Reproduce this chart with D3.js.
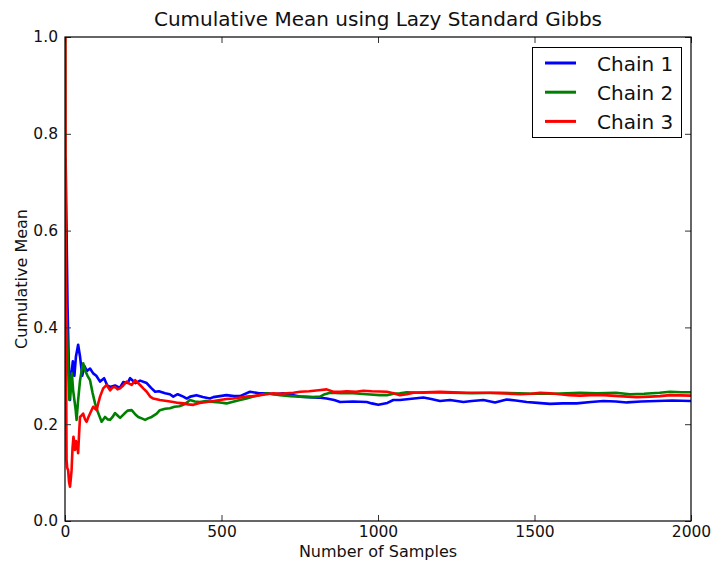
<!DOCTYPE html>
<html>
<head>
<meta charset="utf-8">
<script src="https://cdn.jsdelivr.net/npm/d3@7"></script>
<style>
  body { margin: 0; background: #fff; }
  svg { display: block; font-family: "DejaVu Sans", sans-serif; }
</style>
</head>
<body>
<div id="chart"></div>
<script>
width = 712
height = 565
margin = ({ top: 37, right: 21, bottom: 44, left: 65 })

// values: [sample, cumulative mean]
chainNames = ["Chain 1", "Chain 2", "Chain 3"]
chainColors = ["#0000ff", "#008000", "#ff0000"]

chain1 = [[2,0.75],[5,0.6],[8,0.446],[12,0.33],[16,0.25],[20,0.30],[25,0.33],[30,0.30],[35,0.34],[42,0.364],[48,0.34],[55,0.30],[62,0.32],[70,0.31],[80,0.315],[90,0.305],[100,0.30],[112,0.288],[125,0.295],[135,0.28],[144,0.277],[160,0.28],[175,0.275],[186,0.287],[200,0.285],[208,0.295],[225,0.285],[240,0.29],[261,0.285],[275,0.275],[288,0.267],[300,0.268],[320,0.264],[335,0.262],[346,0.257],[360,0.262],[378,0.257],[389,0.253],[400,0.257],[420,0.26],[440,0.256],[463,0.253],[474,0.256],[495,0.258],[516,0.26],[540,0.258],[559,0.258],[591,0.267],[620,0.264],[644,0.264],[670,0.262],[697,0.264],[730,0.26],[751,0.257],[780,0.256],[810,0.255],[836,0.253],[860,0.25],[879,0.246],[920,0.247],[964,0.246],[980,0.243],[1001,0.24],[1030,0.244],[1049,0.25],[1070,0.25],[1100,0.252],[1145,0.255],[1170,0.252],[1198,0.248],[1230,0.25],[1273,0.246],[1300,0.248],[1337,0.25],[1374,0.245],[1411,0.251],[1440,0.249],[1475,0.246],[1510,0.244],[1550,0.242],[1590,0.243],[1635,0.243],[1680,0.246],[1720,0.248],[1760,0.247],[1795,0.245],[1840,0.247],[1890,0.248],[1940,0.249],[2000,0.248]]

chain2 = [[1,1],[2,0.5],[3,0.45],[5,0.43],[8,0.36],[11,0.3],[14,0.25],[18,0.28],[22,0.305],[26,0.27],[30,0.25],[34,0.23],[37,0.209],[42,0.25],[48,0.29],[53,0.31],[58,0.326],[65,0.31],[72,0.30],[80,0.291],[88,0.265],[96,0.243],[105,0.225],[117,0.205],[128,0.215],[136,0.21],[144,0.209],[152,0.215],[160,0.223],[168,0.218],[176,0.213],[190,0.222],[200,0.228],[213,0.229],[225,0.22],[234,0.215],[245,0.212],[256,0.209],[265,0.212],[277,0.215],[293,0.222],[303,0.229],[320,0.232],[335,0.233],[350,0.236],[365,0.237],[378,0.24],[390,0.245],[399,0.25],[415,0.247],[431,0.246],[450,0.248],[474,0.246],[495,0.245],[516,0.243],[540,0.247],[559,0.25],[580,0.253],[602,0.257],[620,0.26],[644,0.264],[665,0.262],[687,0.26],[720,0.258],[751,0.257],[790,0.256],[815,0.257],[830,0.262],[847,0.265],[880,0.264],[920,0.264],[964,0.262],[1006,0.26],[1028,0.26],[1050,0.263],[1070,0.264],[1092,0.266],[1145,0.265],[1177,0.266],[1230,0.265],[1300,0.264],[1390,0.265],[1450,0.264],[1500,0.263],[1560,0.263],[1645,0.265],[1700,0.264],[1760,0.265],[1805,0.262],[1850,0.263],[1900,0.265],[1933,0.267],[1970,0.266],[2000,0.266]]

chain3 = [[1,1],[2,0.5],[3,0.33],[4,0.25],[5,0.126],[7,0.11],[10,0.105],[13,0.08],[16,0.071],[19,0.09],[21,0.105],[24,0.15],[27,0.174],[30,0.16],[32,0.147],[35,0.165],[37,0.16],[40,0.15],[42,0.14],[45,0.18],[48,0.215],[53,0.218],[58,0.222],[64,0.21],[69,0.205],[75,0.215],[80,0.222],[90,0.236],[96,0.232],[101,0.229],[107,0.245],[112,0.257],[122,0.274],[133,0.281],[144,0.27],[152,0.276],[160,0.277],[168,0.272],[176,0.274],[186,0.28],[197,0.288],[205,0.284],[213,0.281],[224,0.291],[232,0.286],[240,0.281],[250,0.274],[261,0.267],[272,0.257],[282,0.253],[303,0.25],[325,0.248],[346,0.246],[362,0.244],[378,0.243],[394,0.241],[410,0.24],[430,0.244],[453,0.246],[475,0.248],[495,0.25],[516,0.252],[538,0.253],[560,0.255],[580,0.257],[600,0.258],[623,0.26],[645,0.262],[666,0.264],[690,0.263],[708,0.264],[730,0.265],[751,0.267],[780,0.268],[810,0.27],[836,0.272],[857,0.267],[880,0.267],[900,0.268],[930,0.267],[953,0.269],[980,0.268],[1028,0.267],[1050,0.264],[1070,0.26],[1092,0.262],[1113,0.265],[1150,0.266],[1198,0.267],[1240,0.266],[1283,0.265],[1358,0.265],[1390,0.264],[1454,0.262],[1490,0.263],[1518,0.265],[1550,0.264],[1581,0.262],[1610,0.26],[1645,0.259],[1680,0.26],[1720,0.26],[1770,0.258],[1826,0.256],[1870,0.257],[1900,0.258],[1933,0.26],[2000,0.259]]

xTicks = [0, 500, 1000, 1500, 2000]
yTicks = [0.0, 0.2, 0.4, 0.6, 0.8, 1.0]

x = d3.scaleLinear([0, 2000], [margin.left, width - margin.right])
y = d3.scaleLinear([0, 1], [height - margin.bottom, margin.top])

const svg = d3.select("#chart").append("svg")
    .attr("width", width)
    .attr("height", height)

svg.append("rect").attr("width", width).attr("height", height).attr("fill", "#fff")

// lines
const line = d3.line().x(d => x(d[0])).y(d => y(d[1]))
const chains = [chain1, chain2, chain3]

svg.append("defs").append("clipPath").attr("id", "clip")
    .append("rect")
    .attr("x", margin.left).attr("y", margin.top)
    .attr("width", width - margin.left - margin.right)
    .attr("height", height - margin.top - margin.bottom)

svg.append("g")
    .attr("clip-path", "url(#clip)")
    .selectAll("path")
    .data(chains)
    .join("path")
    .attr("fill", "none")
    .attr("stroke", (d, i) => chainColors[i])
    .attr("stroke-width", 2.6)
    .attr("stroke-linejoin", "round")
    .attr("d", line)

// axes, ticks point inward like matplotlib classic
const styleAxis = g => g
    .call(g => g.select(".domain").remove())
    .call(g => g.selectAll(".tick line").attr("stroke", "#333"))
    .call(g => g.selectAll(".tick text").attr("fill", "#111").attr("font-size", 15.5).attr("font-family", "DejaVu Sans"))

svg.append("g")
    .attr("transform", `translate(0,${height - margin.bottom})`)
    .call(d3.axisBottom(x).tickValues(xTicks).tickFormat(d3.format("d")).tickSizeInner(-6).tickSizeOuter(0).tickPadding(5))
    .call(styleAxis)

svg.append("g")
    .attr("transform", `translate(0,${margin.top})`)
    .call(d3.axisTop(x).tickValues(xTicks).tickFormat("").tickSizeInner(-6).tickSizeOuter(0))
    .call(styleAxis)

svg.append("g")
    .attr("transform", `translate(${margin.left},0)`)
    .call(d3.axisLeft(y).tickValues(yTicks).tickFormat(d3.format(".1f")).tickSizeInner(-6).tickSizeOuter(0).tickPadding(7))
    .call(styleAxis)

svg.append("g")
    .attr("transform", `translate(${width - margin.right},0)`)
    .call(d3.axisRight(y).tickValues(yTicks).tickFormat("").tickSizeInner(-6).tickSizeOuter(0))
    .call(styleAxis)

// frame
svg.append("rect")
    .attr("x", margin.left).attr("y", margin.top)
    .attr("width", width - margin.left - margin.right)
    .attr("height", height - margin.top - margin.bottom)
    .attr("fill", "none")
    .attr("stroke", "#000")
    .attr("stroke-width", 1.2)

// title and axis labels
svg.append("text")
    .attr("x", (margin.left + width - margin.right) / 2)
    .attr("y", 26)
    .attr("text-anchor", "middle")
    .attr("font-size", 20)
    .attr("fill", "#111")
    .text("Cumulative Mean using Lazy Standard Gibbs")

svg.append("text")
    .attr("x", (margin.left + width - margin.right) / 2)
    .attr("y", 557)
    .attr("text-anchor", "middle")
    .attr("font-size", 16)
    .attr("fill", "#111")
    .text("Number of Samples")

svg.append("text")
    .attr("transform", `translate(27,${(margin.top + height - margin.bottom) / 2}) rotate(-90)`)
    .attr("text-anchor", "middle")
    .attr("font-size", 16)
    .attr("fill", "#111")
    .text("Cumulative Mean")

// legend
const legend = svg.append("g")
    .attr("transform", `translate(${width - margin.right - 159},${margin.top + 10})`)

legend.append("rect")
    .attr("x", 0.5).attr("y", 0.5)
    .attr("width", 149).attr("height", 90)
    .attr("fill", "#fff")
    .attr("stroke", "#000")
    .attr("stroke-width", 1)

const item = legend.selectAll("g.item")
    .data(chainNames)
    .join("g")
    .attr("class", "item")
    .attr("transform", (d, i) => `translate(0,${16 + i * 29.2})`)

item.append("line")
    .attr("x1", 13).attr("x2", 44)
    .attr("stroke", (d, i) => chainColors[i])
    .attr("stroke-width", 3)

item.append("text")
    .attr("x", 65)
    .attr("y", 7.5)
    .attr("font-size", 20)
    .attr("fill", "#111")
    .text(d => d)
</script>
</body>
</html>
